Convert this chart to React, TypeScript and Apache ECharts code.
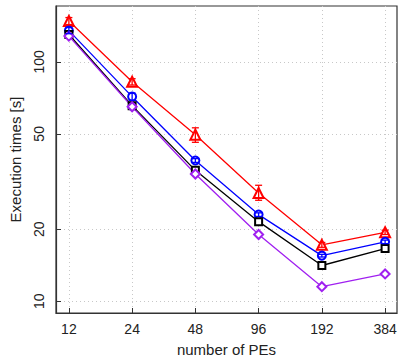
import React, { useEffect, useRef } from 'react';
import * as echarts from 'echarts';

const pes = [12, 24, 48, 96, 192, 384];
const yTicks = [10, 20, 50, 100];
const redTimes = [148, 82.5, 49.6, 28.3, 17.2, 19.4];
const blueTimes = [135, 71.5, 38.7, 23.0, 15.5, 17.7];
const blackTimes = [130, 65.6, 35.2, 21.5, 14.1, 16.6];
const purpleTimes = [128, 64.9, 34.0, 19.0, 11.5, 13.0];
const redLow = [143, 80, 46.1, 26.4, 16.8, 19.0];
const redHigh = [153, 85, 53, 30.5, 17.6, 19.8];
const blueLow = [131, 69, 38, 22.6, 15.3, 17.4];
const blueHigh = [139, 74, 39.4, 23.4, 15.7, 18.0];

const FONT = 'Liberation Sans, Arial, sans-serif';
const RED = '#ff0000';
const BLUE = '#0000ff';
const BLACK = '#000000';
const PURPLE = '#a020f0';

function lineSeries(name: string, data: number[], color: string, symbol: string, size: number) {
  return {
    name,
    type: 'line',
    data: pes.map((p, i) => [p, data[i]]),
    symbol,
    symbolSize: size,
    showAllSymbol: true,
    lineStyle: { color, width: 1.3 },
    itemStyle: { color, borderColor: color, borderWidth: 1.4 },
    z: 3,
  };
}

function errSeries(low: number[], high: number[], color: string) {
  return {
    type: 'custom',
    data: pes.map((p, i) => [p, low[i], high[i]]),
    encode: { x: 0, y: [1, 2] },
    z: 4,
    renderItem: (_params: any, api: any) => {
      const x = api.value(0);
      const a = api.coord([x, api.value(1)]);
      const b = api.coord([x, api.value(2)]);
      const w = 3.5;
      const st = { stroke: color, lineWidth: 1.3 };
      return {
        type: 'group',
        children: [
          { type: 'line', shape: { x1: a[0], y1: a[1], x2: b[0], y2: b[1] }, style: st },
          { type: 'line', shape: { x1: a[0] - w, y1: a[1], x2: a[0] + w, y2: a[1] }, style: st },
          { type: 'line', shape: { x1: b[0] - w, y1: b[1], x2: b[0] + w, y2: b[1] }, style: st },
        ],
      };
    },
  };
}

export default function App() {
  const ref = useRef<HTMLDivElement>(null);
  useEffect(() => {
    document.body.style.margin = '0';
    const chart = echarts.init(ref.current!, null, { renderer: 'svg' });
    const axisColor = '#333';
    const split = { show: true, lineStyle: { color: '#c8c8c8', type: [1, 3], width: 1 } };
    chart.setOption({
      animation: false,
      backgroundColor: '#ffffff',
      grid: { left: 45, right: 10, top: 6, bottom: 49, show: true, borderColor: axisColor, borderWidth: 1.2, backgroundColor: 'transparent' },
      xAxis: {
        type: 'log',
        logBase: 2,
        min: 10.42,
        max: 437.5,
        name: 'number of PEs',
        nameLocation: 'middle',
        nameGap: 29,
        nameTextStyle: { fontSize: 15, color: '#222', fontFamily: FONT },
        axisLine: { show: true, lineStyle: { color: axisColor, width: 1.2 } },
        axisTick: { show: true, inside: true, length: 5, customValues: pes, lineStyle: { color: axisColor } },
        axisLabel: { customValues: pes, fontSize: 14, color: '#222', fontFamily: FONT, margin: 9, formatter: (v: number) => String(Math.round(v)) },
        splitLine: split,
        minorTick: { show: false },
      },
      yAxis: {
        type: 'log',
        logBase: 10,
        min: 8.93,
        max: 171,
        name: 'Execution times [s]',
        nameLocation: 'middle',
        nameGap: 33,
        nameRotate: 90,
        nameTextStyle: { fontSize: 15, color: '#222', fontFamily: FONT },
        axisLine: { show: true, lineStyle: { color: axisColor, width: 1.2 } },
        axisTick: { show: true, inside: true, length: 5, customValues: yTicks, lineStyle: { color: axisColor } },
        axisLabel: { customValues: yTicks, rotate: 90, fontSize: 14, color: '#222', fontFamily: FONT, margin: 10, formatter: (v: number) => String(Math.round(v)) },
        splitLine: split,
        minorTick: { show: false },
      },
      series: [
        lineSeries('red', redTimes, RED, 'emptyTriangle', 10),
        lineSeries('blue', blueTimes, BLUE, 'emptyCircle', 8),
        lineSeries('black', blackTimes, BLACK, 'emptyRect', 7),
        lineSeries('purple', purpleTimes, PURPLE, 'emptyDiamond', 9),
        errSeries(redLow, redHigh, RED),
        errSeries(blueLow, blueHigh, BLUE),
      ],
    });
    return () => chart.dispose();
  }, []);
  return <div ref={ref} style={{ width: 407, height: 362 }} />;
}
